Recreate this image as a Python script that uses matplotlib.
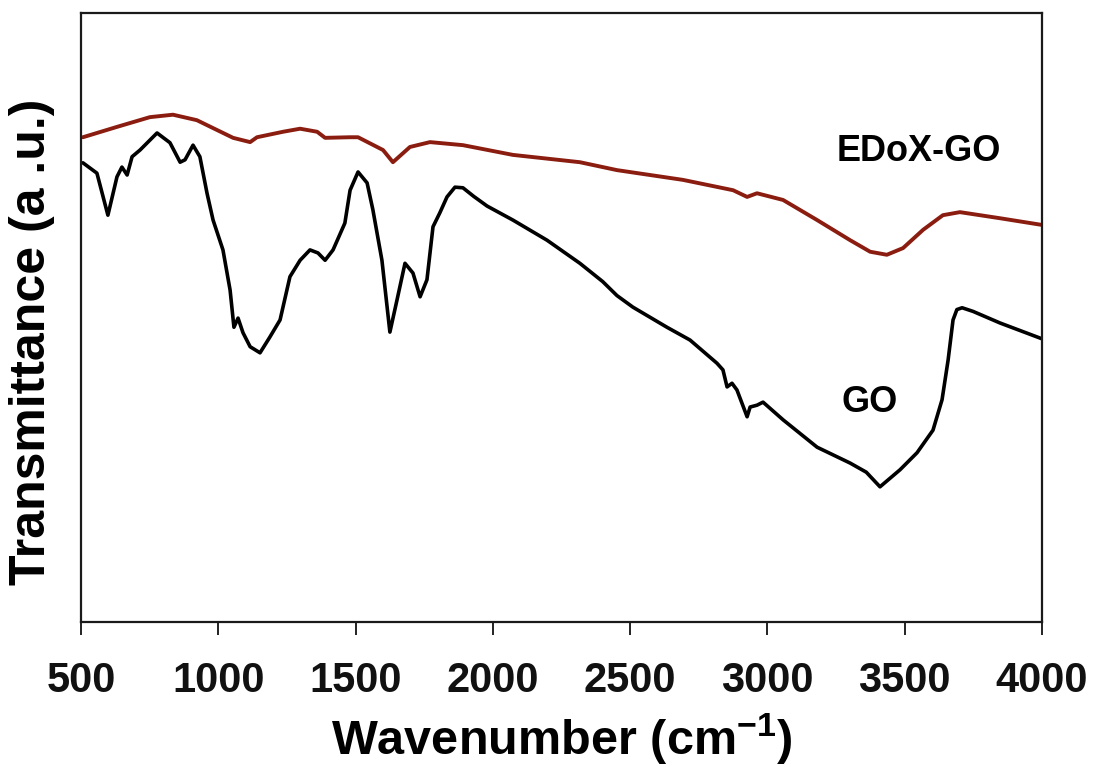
import matplotlib
matplotlib.use("Agg")
import matplotlib.pyplot as plt
from matplotlib.ticker import NullLocator

plt.rcParams['font.family'] = ['Liberation Sans', 'DejaVu Sans']
plt.rcParams['font.weight'] = 'bold'
plt.rcParams['mathtext.fontset'] = 'custom'
plt.rcParams['mathtext.rm'] = 'Liberation Sans:bold'
plt.rcParams['mathtext.bf'] = 'Liberation Sans:bold'
plt.rcParams['mathtext.it'] = 'Liberation Sans:bold'

# FTIR spectra (wavenumber in cm^-1, transmittance in arbitrary units)
go_wavenumber = [507, 558, 598, 631, 649, 668, 686, 715, 777, 824, 861, 879, 908, 933,
                 959, 981, 1017, 1043, 1057, 1072, 1090, 1116, 1152, 1188, 1225, 1261,
                 1298, 1334, 1363, 1389, 1418, 1461, 1480, 1509, 1542, 1563, 1596, 1625,
                 1651, 1680, 1709, 1735, 1760, 1782, 1807, 1833, 1862, 1891, 1930, 1979,
                 2073, 2197, 2317, 2400, 2452, 2510, 2634, 2718, 2816, 2838, 2853, 2871,
                 2889, 2926, 2937, 2962, 2984, 3057, 3181, 3301, 3360, 3410, 3483, 3545,
                 3603, 3636, 3658, 3676, 3690, 3709, 3749, 3847, 4000]
go_transmittance = [75.4, 73.7, 66.8, 73.1, 74.7, 73.4, 76.4, 77.5, 80.3, 78.7, 75.5, 75.9,
                    78.3, 76.4, 70.4, 66.0, 61.1, 54.5, 48.4, 49.9, 47.5, 45.2, 44.2, 46.8,
                    49.6, 56.7, 59.4, 61.1, 60.6, 59.4, 61.1, 65.5, 70.9, 73.9, 72.1, 67.7,
                    59.4, 47.6, 52.9, 58.9, 57.3, 53.4, 56.2, 64.9, 67.2, 69.8, 71.4, 71.3,
                    69.9, 68.3, 66.0, 62.7, 58.9, 55.9, 53.6, 51.7, 48.4, 46.3, 42.5, 41.4,
                    38.6, 39.2, 38.1, 33.7, 35.3, 35.6, 36.1, 33.2, 28.7, 26.1, 24.6, 22.2,
                    25.0, 27.8, 31.5, 36.5, 43.0, 49.6, 51.3, 51.6, 51.0, 49.1, 46.5]

edox_wavenumber = [507, 631, 751, 835, 922, 981, 1054, 1116, 1141, 1236, 1298, 1360, 1389,
                   1480, 1509, 1600, 1636, 1698, 1771, 1891, 2073, 2317, 2452, 2692, 2875,
                   2926, 2962, 3057, 3181, 3301, 3374, 3435, 3494, 3567, 3639, 3701, 3847,
                   4000]
edox_transmittance = [79.6, 81.3, 82.9, 83.3, 82.4, 81.1, 79.5, 78.8, 79.6, 80.5, 81.0, 80.5,
                      79.5, 79.6, 79.6, 77.5, 75.5, 78.0, 78.8, 78.3, 76.7, 75.5, 74.2, 72.6,
                      70.9, 69.8, 70.4, 69.3, 66.0, 62.7, 60.8, 60.3, 61.4, 64.4, 66.8, 67.3,
                      66.3, 65.2]

x_ticks = [500, 1000, 1500, 2000, 2500, 3000, 3500, 4000]

fig = plt.figure(figsize=(10.94, 7.67), dpi=100)
W, H = 1094, 767
ax = fig.add_axes([81 / W, 1 - 622 / H, (1042 - 81) / W, (622 - 13) / H])

ax.plot(go_wavenumber, go_transmittance, color='black', lw=2.6,
        solid_joinstyle='round', solid_capstyle='round')
ax.plot(edox_wavenumber, edox_transmittance, color='#8a1d10', lw=2.8,
        solid_joinstyle='round', solid_capstyle='round')

ax.set_xlim(500, 4000)
ax.set_ylim(0, 100)
ax.set_xticks(x_ticks)
ax.set_xticklabels([str(t) for t in x_ticks])
ax.yaxis.set_major_locator(NullLocator())

for s in ax.spines.values():
    s.set_linewidth(1.6)
    s.set_color('#1a1a1a')

ax.tick_params(axis='x', direction='out', length=9, width=1.3, pad=19,
               labelsize=30, colors='#111111')
for lbl in ax.get_xticklabels():
    lbl.set_fontweight('bold')

ax.text(3552, 77.2, 'EDoX-GO', ha='center', va='center', fontsize=26, fontweight='bold')
ax.text(3374, 36.1, 'GO', ha='center', va='center', fontsize=26, fontweight='bold')

fig.text(561.5 / W, 1 - 755 / H, r'Wavenumber (cm$^{-1}$)', ha='center', va='baseline',
         fontsize=35, fontweight='bold')
fig.text(32 / W, 1 - 342 / H, 'Transmittance (a .u.)', ha='center', va='center',
         rotation=90, fontsize=36, fontweight='bold')

fig.savefig('out.png', dpi=100, facecolor='white')
